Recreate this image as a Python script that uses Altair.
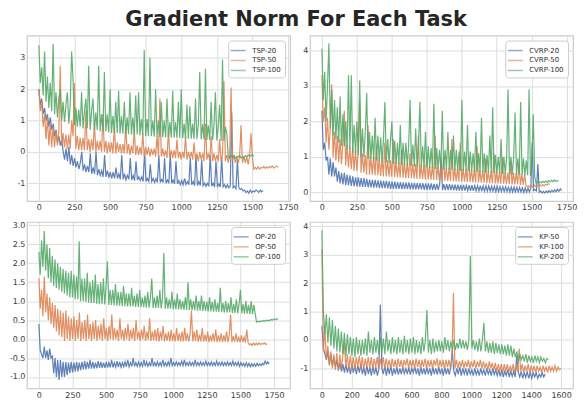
import altair as alt
import numpy as np
import pandas as pd

COLORS = ["#4C72B0", "#DD8452", "#55A868"]

# ---------------- TSP ----------------
TSP_NAMES = ["TSP-20", "TSP-50", "TSP-100"]
TSP_ENDS = [1575, 1680, 1510]
TSP20 = [2.0, 1.5, 1.7, 1.2, 1.4, 1.0, 1.2, 0.8, 1.1, 0.7,
         0.9, 0.5, 0.7, 0.3, 0.5, 0.2, 0.4, 0.0, -0.25, 0.1,
         -0.3, 0.15, -0.4, -0.1, -0.45, -0.2, -0.5, -0.3, -0.55, -0.35,
         0.0, -0.6, -0.4, -0.65, -0.45, -0.65, -0.05, -0.7, -0.5, -0.7,
         0.0, -0.75, -0.55, -0.75, -0.6, -0.8, -0.1, -0.8, -0.6, -0.82,
         -0.65, -0.85, -0.65, -0.85, -0.5, -0.85, -0.7, -0.88, -0.1, -0.88,
         -0.7, -0.9, -0.75, -0.88, -0.2, -0.9, -0.75, -0.92, -0.3, -0.9,
         -0.8, -0.92, -0.8, -0.95, 0.0, -0.95, -0.85, -0.95, -0.4, -0.95,
         -0.85, -0.98, -0.85, -0.98, -0.1, -0.98, -0.88, -0.98, -0.2, -1.0,
         -0.9, -1.0, -0.05, -1.0, -0.9, -1.02, -0.3, -1.02, -0.92, -1.05,
         -0.92, -1.05, -0.85, -1.05, -0.95, -1.05, -0.2, -1.05, -0.95, -1.08,
         -0.1, -1.08, -0.95, -1.08, -0.25, -1.08, -1.0, -1.1, -1.0, -1.1,
         -0.1, -1.1, -1.0, -1.12, -0.3, -1.12, -1.02, -1.12, -0.15, -1.12,
         -1.05, -1.15, -1.05, -1.15, -1.1, 1.25, -1.15, -1.1, -1.18, -0.25,
         -1.15, -1.2, -1.18, -1.25, -1.22, -1.3, -1.25, -1.32, -1.22, -1.3,
         -1.25, -1.28, -1.22, -1.25, -1.3, -1.22, -1.28, -1.24]
TSP50 = [2.0, 1.3, 1.6, 0.8, 1.2, 0.4, 1.1, 0.2, 0.9, 0.15,
         0.8, 0.15, 0.7, 0.2, 0.65, 2.75, 0.2, 0.6, 0.15, 0.55,
         0.1, 0.55, 0.1, 1.0, 0.5, 2.2, 0.1, 0.5, 0.05, 0.45,
         0.05, 0.45, 0.05, 1.3, 0.05, 0.4, 0.0, 0.4, 0.05, 0.9,
         0.0, 0.35, 0.05, 0.35, 0.0, 1.2, 0.0, 0.35, -0.05, 0.3,
         0.0, 0.3, -0.05, 0.8, -0.05, 0.3, 0.0, 0.25, -0.05, 0.25,
         -0.05, 0.9, -0.05, 0.25, -0.1, 0.2, -0.05, 0.7, -0.1, 0.2,
         -0.1, 0.15, -0.1, 0.6, -0.15, 0.15, -0.1, 0.15, -0.15, 0.1,
         -0.1, 0.1, -0.15, 0.5, -0.15, 1.7, -0.15, 0.1, -0.15, 0.05,
         -0.2, 0.7, -0.2, 0.05, -0.2, 0.05, -0.2, 0.4, -0.2, 0.0,
         -0.25, 0.0, -0.2, 0.5, -0.25, 0.0, -0.2, 0.0, -0.25, 0.3,
         -0.25, -0.05, -0.3, 0.0, -0.25, -0.05, -0.3, 0.9, -0.25, -0.05,
         -0.3, 0.5, -0.3, -0.05, -0.3, -0.1, -0.3, 0.4, -0.3, -0.1,
         2.25, -0.3, -0.1, -0.35, -0.1, 2.05, -0.3, -0.1, -0.35, -0.15,
         -0.35, -0.15, 0.85, -0.35, -0.15, -0.35, -0.15, -0.4, -0.15, 0.6,
         -0.2, -0.55, -0.5, -0.55, -0.48, -0.55, -0.5, -0.52, -0.47, -0.53,
         -0.48, -0.52, -0.47, -0.5, -0.45, -0.52, -0.48, -0.45, -0.5]
TSP100 = [3.4, 2.2, 2.7, 1.8, 3.2, 1.6, 2.4, 1.4, 2.2, 1.3,
          3.45, 1.2, 1.9, 1.1, 1.7, 2.0, 1.0, 1.6, 0.95, 1.5,
          1.9, 0.9, 1.5, 3.2, 2.3, 0.85, 1.4, 0.8, 1.35, 0.8,
          1.9, 0.75, 1.3, 1.7, 0.75, 2.75, 0.7, 1.3, 1.7, 0.7,
          1.25, 0.7, 2.75, 0.65, 1.2, 0.65, 2.55, 0.65, 1.2, 0.62,
          2.0, 0.6, 1.15, 0.6, 1.6, 0.6, 1.95, 0.58, 1.15, 0.58,
          1.6, 0.56, 1.1, 0.56, 1.9, 0.55, 1.1, 0.55, 1.8, 0.55,
          1.9, 0.52, 1.05, 0.52, 3.25, 0.5, 1.05, 0.5, 3.0, 0.5,
          1.0, 0.48, 2.0, 0.48, 1.0, 0.47, 1.6, 0.47, 1.0, 0.46,
          1.7, 0.46, 0.95, 0.45, 1.95, 0.45, 0.95, 0.44, 1.6, 0.44,
          2.0, 0.43, 0.9, 0.43, 1.5, 0.42, 1.45, 0.42, 0.9, 0.41,
          1.7, 0.4, 0.88, 2.55, 0.4, 0.88, 0.4, 2.65, 0.38, 0.85,
          0.38, 1.6, 0.37, 0.85, 1.9, 0.36, 0.82, 1.5, 0.35, 2.95,
          0.35, 0.8, 0.6, -0.15, -0.2, -0.12, -0.18, -0.14, -0.2, -0.15,
          -0.17, -0.12, -0.2, -0.15, -0.18, -0.12, -0.16, -0.1, -0.15, -0.12, -0.1, -0.14]

# ---------------- CVRP ----------------
CVRP_NAMES = ["CVRP-20", "CVRP-50", "CVRP-100"]
CVRP_ENDS = [1714, 1629, 1691]
CVRP20 = [2.3, 1.2, 1.4, 0.9, 1.0, 0.5, 0.95, 0.45, 0.85, 0.45,
          0.7, 0.3, 0.6, 0.25, 0.55, 0.22, 0.55, 0.2, 0.5, 0.2,
          0.48, 0.18, 0.45, 0.17, 0.42, 0.17, 0.42, 0.16, 0.4, 0.15,
          0.4, 0.15, 0.38, 0.14, 0.36, 0.14, 0.35, 0.13, 0.35, 0.13,
          0.34, 0.12, 0.33, 0.12, 0.32, 0.12, 0.32, 0.11, 0.31, 0.1,
          0.3, 0.1, 0.3, 0.1, 0.29, 0.1, 0.29, 0.09, 0.28, 0.09,
          0.28, 0.09, 0.28, 0.08, 0.27, 0.08, 0.27, 0.08, 0.26, 0.08,
          0.26, 0.08, 0.26, 0.07, 0.25, 0.07, 0.25, 0.07, 0.25, 0.07,
          0.24, 0.07, 0.24, 0.07, 0.24, 0.95, 0.06, 0.23, 0.06, 0.23,
          0.06, 0.23, 0.06, 0.22, 0.06, 0.22, 0.05, 0.22, 0.05, 0.21,
          0.05, 0.21, 0.05, 0.2, 0.05, 0.2, 0.04, 0.2, 0.04, 0.19,
          0.04, 0.19, 0.04, 0.19, 0.03, 0.18, 0.03, 0.18, 0.03, 0.18,
          0.03, 0.17, 0.03, 0.17, 0.02, 0.17, 0.02, 0.16, 0.02, 0.16,
          0.02, 0.16, 0.02, 0.15, 0.01, 0.15, 0.01, 0.15, 0.01, 0.14,
          0.01, 0.14, 0.01, 0.13, 0.0, 0.13, 0.0, 0.12, 0.01, 0.12,
          1.4, 0.05, 0.08, 0.04, 0.8, 0.0, 0.04, -0.02, 0.03, -0.02,
          0.04, -0.01, 0.05, 0.0, 0.06, 0.01, 0.07, 0.02, 0.09, 0.03,
          0.1, 0.05]
CVRP50 = [3.3, 2.0, 2.4, 1.4, 2.1, 1.2, 1.8, 3.05, 1.0, 1.7,
          0.9, 1.6, 0.85, 1.5, 0.8, 1.4, 2.3, 0.75, 1.35, 0.7,
          1.3, 0.65, 1.25, 0.6, 1.2, 0.6, 1.15, 2.6, 0.55, 1.1,
          0.55, 1.05, 0.5, 1.9, 0.5, 1.0, 0.5, 1.0, 0.48, 1.3,
          0.48, 0.95, 0.46, 0.95, 0.45, 1.4, 0.45, 0.9, 0.44, 0.9,
          0.44, 1.5, 0.43, 0.88, 0.42, 0.85, 0.42, 1.2, 0.41, 0.85,
          0.4, 0.82, 0.4, 1.1, 0.4, 0.8, 0.39, 0.8, 0.38, 1.6,
          0.38, 0.78, 0.37, 0.78, 0.36, 1.1, 0.36, 0.75, 0.35, 0.75,
          0.35, 1.6, 0.34, 0.72, 0.34, 0.72, 0.33, 1.0, 0.33, 0.7,
          0.32, 0.7, 0.32, 1.5, 0.31, 0.68, 0.31, 0.68, 0.3, 1.4,
          0.3, 0.66, 0.3, 0.66, 0.29, 1.0, 0.29, 0.64, 0.28, 0.64,
          0.28, 1.3, 0.28, 0.62, 0.27, 0.62, 0.27, 0.95, 0.26, 0.6,
          0.26, 0.6, 0.25, 1.1, 0.25, 0.58, 0.25, 0.58, 0.24, 1.0,
          0.24, 0.56, 0.23, 0.56, 0.23, 0.9, 0.22, 0.55, 0.22, 0.55,
          0.22, 0.8, 0.21, 0.52, 0.21, 0.5, 0.2, 0.15, 0.18, 0.14,
          0.19, 0.15, 0.2, 0.16, 0.2, 0.17, 0.21, 0.18, 0.22, 0.18,
          0.23, 0.21, 0.24, 0.22]
CVRP100 = [4.05, 2.6, 3.4, 2.0, 3.0, 4.2, 1.8, 2.9, 1.6, 2.6,
           1.5, 2.4, 1.4, 2.7, 1.3, 2.2, 1.3, 2.0, 1.2, 3.3,
           1.2, 3.3, 1.1, 1.9, 1.1, 2.0, 1.05, 3.15, 1.0, 1.8,
           1.0, 1.7, 2.8, 0.95, 1.7, 0.95, 1.6, 0.9, 2.1, 0.9,
           1.6, 0.88, 1.55, 0.85, 1.5, 2.55, 0.85, 1.5, 0.82, 1.45,
           2.0, 0.8, 1.45, 0.8, 1.4, 0.78, 1.9, 0.78, 1.4, 0.76,
           1.4, 0.75, 1.35, 2.6, 0.75, 1.35, 0.72, 1.8, 0.72, 1.3,
           2.55, 0.7, 1.3, 0.7, 1.7, 0.7, 1.3, 0.68, 1.25, 0.68,
           2.5, 0.66, 1.25, 0.66, 1.2, 0.65, 2.3, 0.65, 1.2, 0.64,
           1.7, 0.64, 1.2, 0.63, 1.6, 0.62, 1.2, 0.62, 1.15, 0.61,
           2.6, 0.6, 1.15, 0.6, 1.9, 0.6, 1.15, 0.59, 1.1, 0.58,
           1.7, 0.58, 1.1, 0.57, 2.1, 0.56, 1.1, 0.56, 1.05, 0.55,
           1.6, 0.55, 2.4, 0.54, 1.05, 0.54, 1.0, 0.53, 1.5, 0.52,
           1.0, 0.52, 1.0, 2.9, 0.51, 1.0, 0.5, 1.0, 2.25, 0.5,
           0.95, 0.5, 2.55, 0.5, 0.95, 0.48, 0.9, 0.48, 2.9, 0.46,
           0.9, 2.2, 0.45, 0.25, 0.3, 0.26, 0.3, 0.27, 0.31, 0.28,
           0.32, 0.28, 0.33, 0.3, 0.34, 0.3, 0.35, 0.31, 0.33, 0.32]

# ---------------- OP ----------------
OP_NAMES = ["OP-20", "OP-50", "OP-100"]
OP_ENDS = [1714, 1698, 1780]
OP20 = [0.4, -0.3, -0.4, -0.5, -0.2, -0.5, -0.3, -0.55, -0.25, -0.5,
        -0.45, -0.9, -0.5, -1.0, -0.55, -1.08, -0.55, -1.0, -0.6, -1.0,
        -0.6, -0.95, -0.62, -0.9, -0.6, -0.88, -0.62, -0.86, -0.6, -0.85,
        -0.62, -0.82, -0.6, -0.8, -0.58, -0.8, -0.6, -0.78, -0.55, -0.78,
        -0.6, -0.78, -0.62, -0.77, -0.58, -0.76, -0.6, -0.76, -0.62, -0.76,
        -0.6, -0.75, -0.62, -0.75, -0.55, -0.75, -0.62, -0.74, -0.58, -0.74,
        -0.6, -0.74, -0.62, -0.73, -0.6, -0.73, -0.55, -0.73, -0.62, -0.72,
        -0.5, -0.72, -0.62, -0.72, -0.6, -0.72, -0.62, -0.72, -0.55, -0.72,
        -0.6, -0.72, -0.62, -0.72, -0.5, -0.72, -0.62, -0.71, -0.6, -0.71,
        -0.62, -0.71, -0.55, -0.71, -0.62, -0.71, -0.6, -0.7, -0.5, -0.7,
        -0.62, -0.7, -0.6, -0.7, -0.62, -0.7, -0.58, -0.7, -0.55, -0.7,
        -0.62, -0.7, -0.6, -0.7, -0.62, -0.7, -0.55, -0.7, -0.62, -0.7,
        -0.6, -0.7, -0.62, -0.7, -0.58, -0.7, -0.62, -0.7, -0.6, -0.7,
        -0.62, -0.7, -0.58, -0.7, -0.62, -0.7, -0.6, -0.7, -0.62, -0.7,
        -0.6, -0.7, -0.62, -0.7, -0.58, -0.7, -0.62, -0.7, -0.6, -0.72,
        -0.62, -0.7, -0.64, -0.72, -0.62, -0.72, -0.64, -0.73, -0.65, -0.72,
        -0.65, -0.72, -0.64, -0.7, -0.65, -0.7, -0.64, -0.68, -0.58, -0.66,
        -0.6, -0.66]
OP50 = [1.6, 0.8, 1.3, 0.6, 1.65, 0.7, 1.2, 0.5, 1.1, 0.4,
        0.95, 0.3, 0.9, 0.2, 0.8, 0.1, 0.75, 0.05, 0.7, -0.05,
        0.75, 0.0, 0.6, -0.05, 0.55, 0.0, 0.6, -0.05, 0.5, 0.0,
        0.7, -0.05, 0.45, 0.0, 0.5, -0.05, 0.65, 0.0, 0.4, -0.05,
        0.45, 0.0, 0.5, -0.05, 0.35, 0.0, 0.4, -0.05, 0.55, 0.0,
        0.3, -0.05, 0.35, 0.0, 0.65, -0.03, 0.3, 0.0, 0.25, -0.05,
        0.55, 0.0, 0.25, -0.05, 0.3, 0.0, 0.4, -0.05, 0.25, 0.0,
        0.3, -0.05, 0.5, 0.0, 0.2, -0.05, 0.25, 0.0, 0.35, -0.05,
        0.2, -0.02, 0.55, -0.05, 0.2, -0.03, 0.25, -0.05, 0.3, -0.06,
        0.2, -0.03, 0.35, -0.06, 0.15, -0.04, 0.2, -0.06, 0.25, -0.05,
        0.15, -0.06, 0.3, -0.05, 0.15, -0.06, 0.2, -0.06, 0.3, -0.05,
        0.15, -0.06, 0.15, 0.75, -0.06, 0.2, -0.05, 0.25, -0.07, 0.12,
        -0.06, 0.3, -0.07, 0.12, -0.06, 0.2, -0.08, 0.1, -0.06, 0.15,
        -0.07, 0.25, -0.08, 0.1, -0.07, 0.15, -0.08, 0.1, -0.07, 0.2,
        -0.08, 0.1, 0.65, -0.08, 0.08, -0.07, 0.15, -0.08, 0.05, -0.08,
        0.1, -0.08, 0.05, -0.09, 0.25, -0.1, -0.15, -0.12, -0.17, -0.1,
        -0.16, -0.11, -0.15, -0.1, -0.14, -0.12, -0.13, -0.1, -0.14, -0.12]
OP100 = [2.3, 1.7, 2.6, 1.9, 2.85, 1.8, 2.5, 1.6, 2.4, 1.5,
         2.2, 1.4, 2.1, 1.35, 2.0, 1.3, 1.9, 1.25, 1.85, 1.2,
         1.8, 1.15, 1.75, 1.1, 1.8, 1.1, 1.7, 1.05, 1.65, 1.05,
         2.58, 1.0, 1.6, 1.0, 1.6, 0.98, 1.75, 0.96, 1.5, 0.95,
         1.55, 0.95, 1.7, 0.93, 1.45, 0.92, 1.5, 0.92, 1.6, 0.91,
         1.4, 2.05, 0.9, 1.3, 0.9, 1.3, 0.89, 1.45, 0.88, 1.25,
         0.88, 1.25, 0.87, 1.4, 0.87, 1.2, 0.86, 1.2, 0.86, 1.35,
         0.86, 1.15, 0.85, 1.2, 0.85, 1.3, 0.84, 1.1, 0.84, 1.15,
         0.83, 1.25, 0.83, 1.1, 1.6, 0.82, 1.1, 0.82, 1.15, 0.82,
         1.3, 0.81, 1.1, 2.27, 0.8, 1.1, 0.8, 1.05, 0.8, 1.25,
         0.79, 1.05, 0.79, 1.2, 0.78, 1.05, 0.78, 1.0, 0.77, 1.1,
         0.77, 1.5, 0.76, 1.05, 0.76, 1.0, 0.76, 1.15, 0.75, 1.0,
         0.75, 1.15, 0.74, 1.0, 0.74, 0.98, 0.73, 1.1, 0.73, 0.98,
         0.72, 1.05, 0.72, 0.95, 0.71, 1.35, 0.71, 0.95, 0.7, 1.0,
         0.7, 0.95, 0.7, 1.1, 0.69, 0.92, 0.69, 1.05, 0.68, 0.92,
         1.3, 0.68, 0.92, 0.67, 1.0, 0.67, 0.9, 0.66, 1.0, 0.66,
         0.9, 0.66, 0.45, 0.47, 0.45, 0.48, 0.46, 0.49, 0.47, 0.5,
         0.48, 0.5, 0.49, 0.52, 0.5, 0.53, 0.51, 0.54, 0.52]

# ---------------- KP ----------------
KP_NAMES = ["KP-50", "KP-100", "KP-200"]
KP_ENDS = [1494, 1600, 1515]
KP50 = [0.5, -0.3, -0.5, -0.7, -0.4, -0.85, -0.5, -0.9, -0.6, -0.95,
        -0.7, -1.05, -0.8, -1.1, -0.85, -1.15, -0.85, -1.15, -0.9, -1.2,
        -0.85, -1.15, -0.9, -1.2, -0.9, -1.15, -0.85, -1.2, -0.95, -1.25,
        -0.9, -1.2, -0.95, -1.25, -0.9, -1.2, -0.95, -1.25, -1.0, 1.25,
        -1.0, -1.2, -0.9, -1.25, -0.95, -1.2, -0.9, -1.25, -1.0, -1.2,
        -0.95, -1.22, -1.0, -1.2, -0.95, -1.18, -1.0, -1.2, -0.95, -1.22,
        -1.0, -1.15, -0.95, -1.2, -1.0, -1.25, -0.95, -1.2, -1.0, -1.22,
        -0.95, -1.2, -1.0, -1.25, -0.95, -1.2, -1.0, -1.22, -0.95, -1.2,
        -1.0, -1.25, -0.95, -1.2, -1.0, -1.22, -0.95, -0.35, -1.1, -1.25,
        -1.0, -1.2, -0.95, -1.25, -1.0, -1.2, -1.0, -1.25, -1.0, -1.2,
        -1.05, -1.25, -1.0, -1.22, -1.05, -1.25, -1.0, -1.2, -1.05, -1.25,
        -1.0, -1.2, -1.05, -1.25, -1.0, -1.22, -1.05, -1.25, -1.05, -1.28,
        -1.05, -1.3, -1.1, -1.25, -1.05, -1.3, -1.1, -1.28, -1.1, -1.3,
        -0.55, -1.12, -1.3, -1.1, -1.35, -1.15, -1.32, -1.1, -1.35, -1.15,
        -1.35, -1.15, -1.3, -1.15, -1.35, -1.2, -1.3, -1.15, -1.3, -1.2]
KP100 = [3.2, -0.4, 0.4, -0.7, -0.2, -0.9, -0.4, -1.0, -0.5, -1.05,
         -0.45, -1.1, -0.5, -1.0, -0.55, -0.1, -0.95, -0.5, -1.05, -0.55,
         -1.0, -0.6, -1.05, -0.6, -0.95, -0.55, -1.0, -0.6, -1.05, -0.65,
         -0.95, -0.6, -1.0, -0.6, -1.0, -0.65, -0.95, -0.6, -1.05, -0.65,
         -0.95, -0.6, -1.0, -0.65, -0.95, -0.7, -1.0, -0.65, -0.95, -0.7,
         -1.0, -0.65, -0.95, -0.7, -1.0, -0.7, -0.9, -0.65, -1.0, -0.7,
         -0.95, -0.7, -1.0, -0.65, -0.95, -0.7, -1.0, -0.7, -0.95, -0.65,
         -1.0, -0.7, -0.95, -0.7, -1.0, -0.7, -0.9, -0.65, -1.0, -0.7,
         -0.95, -0.7, -1.0, -0.7, -0.95, -0.7, -1.0, -0.7, 1.65, -1.0,
         -0.7, -1.0, -0.75, -0.95, -0.7, -1.0, -0.75, -0.95, -0.7, -1.0,
         -0.75, -0.95, -0.7, -1.0, -0.75, -0.95, -0.7, -1.0, -0.75, -1.0,
         -0.8, -1.05, -0.75, -1.0, -0.8, -1.05, -0.8, -1.1, -0.85, -1.1,
         -0.85, -1.15, -0.85, -1.1, -0.85, -1.15, -0.9, -1.1, -0.85, -1.15,
         -0.9, -1.1, -0.3, -1.1, -0.85, -1.15, -0.9, -1.1, -0.85, -1.15,
         -0.9, -1.1, -0.9, -1.15, -0.9, -1.1, -0.95, -1.15, -0.9, -1.1,
         -0.95, -1.15, -0.9, -1.1, -0.95, -1.1, -0.9, -1.1, -0.95, -1.05,
         -1.0]
KP200 = [3.85, 1.0, 0.2, 0.9, -0.1, 0.8, -0.2, 0.7, -0.3, 0.5,
         -0.4, 0.4, -0.45, 0.3, -0.5, 0.25, -0.55, 0.2, -0.5, 0.1,
         -0.55, 0.05, -0.6, 0.1, -0.5, 0.0, -0.55, 0.0, -0.5, 0.05,
         -0.55, 0.3, -0.45, 0.0, -0.5, 0.1, -0.45, 0.0, -0.5, 0.1,
         -0.45, 0.05, -0.5, 0.3, -0.4, 0.0, -0.5, 0.1, -0.45, 0.0,
         -0.5, 0.1, -0.45, 0.0, -0.5, 0.15, -0.45, 0.0, -0.5, 0.05,
         -0.45, 0.1, -0.5, 0.0, -0.45, -0.05, -0.5, 0.1, -0.4, 0.0,
         1.05, -0.45, 0.0, -0.5, 0.05, -0.45, -0.05, -0.4, 0.0, -0.4,
         -0.05, -0.45, 0.1, -0.35, 0.0, -0.4, -0.05, -0.35, 0.0, -0.35,
         -0.1, -0.3, 0.05, -0.3, 0.0, -0.3, -0.05, -0.35, 0.0, 2.95,
         -0.3, 0.0, -0.35, -0.05, -0.4, 0.05, -0.4, 0.0, 0.6, -0.4,
         -0.05, -0.45, -0.1, -0.45, -0.05, -0.5, -0.1, -0.45, -0.15, -0.5,
         -0.15, -0.5, -0.2, -0.55, -0.15, -0.55, -0.2, -0.6, -0.3, -0.6,
         -0.4, -0.75, -0.5, -0.7, -0.55, -0.75, -0.5, -0.8, -0.55, -0.75,
         -0.6, -0.8, -0.55, -0.75, -0.6, -0.8, -0.6, -0.75, -0.65, -0.8,
         -0.65, -0.7]

X_TICKS_A = [0, 250, 500, 750, 1000, 1250, 1500, 1750]
X_TICKS_KP = [0, 200, 400, 600, 800, 1000, 1200, 1400, 1600]

PANELS = [
    dict(names=TSP_NAMES, values=[TSP20, TSP50, TSP100], ends=TSP_ENDS,
         xdom=[-84, 1764], ydom=[-1.57, 3.71], xticks=X_TICKS_A, yticks=[-1, 0, 1, 2, 3],
         yfmt="d", w=264, h=166),
    dict(names=CVRP_NAMES, values=[CVRP20, CVRP50, CVRP100], ends=CVRP_ENDS,
         xdom=[-85.5, 1795], ydom=[-0.245, 4.42], xticks=X_TICKS_A, yticks=[0, 1, 2, 3, 4],
         yfmt="d", w=264, h=166),
    dict(names=OP_NAMES, values=[OP20, OP50, OP100], ends=OP_ENDS,
         xdom=[-89, 1869], ydom=[-1.30, 3.09], xticks=X_TICKS_A,
         yticks=[-1.0, -0.5, 0.0, 0.5, 1.0, 1.5, 2.0, 2.5, 3.0], yfmt=".1f", w=264, h=167),
    dict(names=KP_NAMES, values=[KP50, KP100, KP200], ends=KP_ENDS,
         xdom=[-80, 1680], ydom=[-1.70, 4.15], xticks=X_TICKS_KP, yticks=[-1, 0, 1, 2, 3, 4],
         yfmt="d", w=264, h=167),
]

MINUS_FIX = "replace(datum.label, '\u2212', '-')"


def make_panel(p):
    layers = []
    for name, vals, end in zip(p["names"], p["values"], p["ends"]):
        df = pd.DataFrame({
            "step": np.linspace(0, end, len(vals)),
            "value": vals,
            "series": name,
        })
        layers.append(
            alt.Chart(df).mark_line(strokeWidth=1.2, opacity=0.9).encode(
                x=alt.X("step:Q", title=None,
                        scale=alt.Scale(domain=p["xdom"], nice=False, zero=False),
                        axis=alt.Axis(values=p["xticks"], format="d", labelPadding=3)),
                y=alt.Y("value:Q", title=None,
                        scale=alt.Scale(domain=p["ydom"], nice=False, zero=False),
                        axis=alt.Axis(values=p["yticks"], format=p["yfmt"],
                                      labelExpr=MINUS_FIX, labelPadding=2)),
                color=alt.Color("series:N",
                                scale=alt.Scale(domain=p["names"], range=COLORS),
                                legend=alt.Legend(title=None, orient="top-right")),
            )
        )
    return alt.layer(*layers).properties(width=p["w"], height=p["h"])


panels = [make_panel(p) for p in PANELS]

chart = (
    alt.concat(*panels, columns=2, spacing={"row": 21, "column": 20}, bounds="flush")
    .resolve_scale(color="independent", x="independent", y="independent")
    .resolve_legend(color="independent")
    .properties(
        title=alt.TitleParams("Gradient Norm For Each Task", fontSize=21, fontWeight="bold",
                              font="DejaVu Sans", color="#262626", anchor="middle",
                              offset=5, dx=3),
        padding={"left": 0, "top": 0, "right": 0, "bottom": 0},
    )
    .configure_view(stroke="#cccccc", strokeWidth=1.2)
    .configure_axis(grid=True, gridColor="#dddddd", gridWidth=1, domain=False, ticks=False,
                    labelFont="DejaVu Sans", labelFontSize=8, labelColor="#3a3a3a",
                    labelFlush=False, labelOverlap=False, labelBound=False)
    .configure_legend(fillColor="white", strokeColor="#cccccc", cornerRadius=3, padding=4,
                      offset=5, labelFont="DejaVu Sans", labelFontSize=7, labelColor="#333333",
                      symbolType="M-1.5,0H1.5", symbolSize=100, symbolStrokeWidth=1.5,
                      symbolOpacity=0.6, labelOffset=8, rowPadding=1)
)

chart.save("out.html", embed_options={"renderer": "svg", "actions": False})
